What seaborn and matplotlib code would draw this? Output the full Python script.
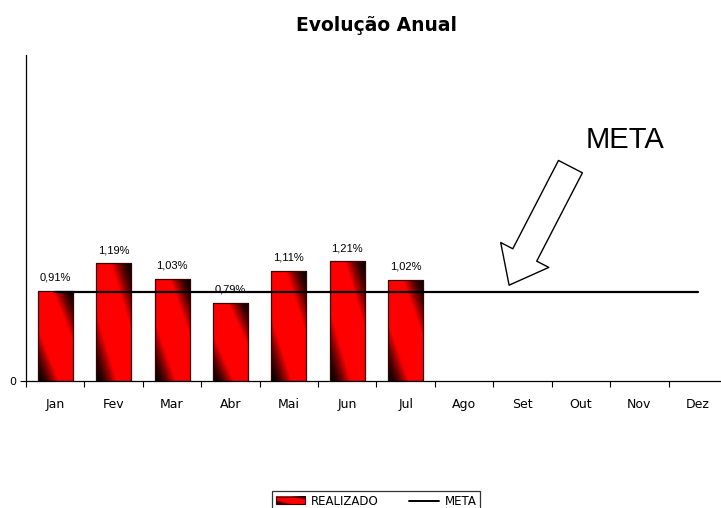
import numpy as np
import pandas as pd
import matplotlib
matplotlib.use("Agg")
import matplotlib.pyplot as plt
import seaborn as sns
from matplotlib.patches import Rectangle, Patch
from matplotlib.lines import Line2D
from matplotlib.legend_handler import HandlerBase
from matplotlib.image import BboxImage
from matplotlib.transforms import Bbox, TransformedBbox

# ---- data ----
months = ["Jan", "Fev", "Mar", "Abr", "Mai", "Jun", "Jul", "Ago", "Set", "Out", "Nov", "Dez"]
realizado = [0.91, 1.19, 1.03, 0.79, 1.11, 1.21, 1.02, np.nan, np.nan, np.nan, np.nan, np.nan]
meta = [0.90] * 12
title = "Evolução Anual"
meta_label = "META"
legend_labels = ["REALIZADO", "META"]

sns.set_theme(style="white")
plt.rcParams["font.family"] = ["DejaVu Sans"]
plt.rcParams.update({"text.color": "black", "axes.labelcolor": "black",
                     "xtick.color": "black", "ytick.color": "black"})

W, H = 721, 508
fig = plt.figure(figsize=(W / 100, H / 100), dpi=100)
ax = fig.add_axes([26 / W, 1 - 381 / H, 701 / W, 326 / H])

df = pd.DataFrame({"mes": months, "valor": realizado})
sns.barplot(data=df, x="mes", y="valor", order=months, color="red", saturation=1,
            width=0.6, errorbar=None, ax=ax)

# gradient fill
def grad_array(n=64, m=64):
    v = np.linspace(1, 0, n)[:, None]   # top row = 1
    u = np.linspace(0, 1, m)[None, :]
    d = np.abs(u + v - 1)
    f = np.clip((1 - d) / 0.58, 0, 1) ** 1.5
    img = np.zeros((n, m, 3))
    img[..., 0] = f
    return img

G = grad_array()
edge = "#3a0000"
for p in list(ax.patches):
    h = p.get_height()
    if not np.isfinite(h) or h == 0:
        p.set_visible(False)
        continue
    x0, w = p.get_x(), p.get_width()
    p.set_facecolor("none")
    p.set_edgecolor(edge)
    p.set_linewidth(0.9)
    p.set_zorder(3)
    im = ax.imshow(G, extent=(x0, x0 + w, 0, h), aspect="auto", zorder=2,
                   interpolation="bilinear")
    im.set_clip_path(p)

# meta line
sns.lineplot(x=np.arange(len(months)), y=meta, color="black", linewidth=1.6, ax=ax, zorder=5)

# data labels
for i, v in enumerate(realizado):
    if np.isfinite(v):
        ax.annotate(f"{v:.2f}".replace(".", ",") + "%", xy=(i, v), xytext=(0, 7.5),
                    textcoords="offset points", ha="center", va="baseline",
                    fontsize=8, family="Liberation Sans", color="black", zorder=6)

ax.set_xlim(-0.5, 11.5)
ax.set_ylim(0, 3.3)
ax.set_xlabel("")
ax.set_ylabel("")
ax.set_yticks([0])
ax.set_yticklabels(["0"], fontsize=8)
ax.set_xticks(range(len(months)))
ax.set_xticklabels(months, fontsize=9)
ax.set_xticks(np.arange(-0.5, 12, 1), minor=True)
ax.tick_params(axis="x", which="major", length=0, pad=12, colors="black")
ax.tick_params(axis="x", which="minor", length=4, width=0.8, direction="out", bottom=True, color="black")
ax.tick_params(axis="y", length=4, width=0.8, direction="out", left=True, pad=3, colors="black")
for s in ["top", "right"]:
    ax.spines[s].set_visible(False)
for s in ["left", "bottom"]:
    ax.spines[s].set_color("black")
    ax.spines[s].set_linewidth(0.9)
ax.grid(False)
ax.set_facecolor("white")

# META annotation with block arrow
ax.text(9.75, 2.44, meta_label, fontsize=21, family="Liberation Sans", ha="center", va="center",
        color="black")
ax.annotate("", xy=(7.77, 0.97), xytext=(8.82, 2.17),
            arrowprops=dict(arrowstyle="simple,head_length=2.45,head_width=3.9,tail_width=1.94",
                            mutation_scale=10, fc="white", ec="black", lw=1.0,
                            shrinkA=0, shrinkB=0), zorder=6)

# title
fig.text(376 / W, 1 - 31 / H, title, ha="center", va="baseline", fontsize=13.5,
         fontweight="bold", color="black")

# legend with gradient patch
class HandlerGrad(HandlerBase):
    def create_artists(self, legend, orig_handle, xdescent, ydescent, width, height, fontsize, trans):
        bb = Bbox.from_bounds(-xdescent, -ydescent, width, height)
        img = BboxImage(TransformedBbox(bb, trans), interpolation="bilinear")
        img.set_data(G)
        rect = Rectangle((-xdescent, -ydescent), width, height, fc="none", ec=edge, lw=0.8,
                         transform=trans)
        return [img, rect]

h1 = Patch(facecolor="red", edgecolor=edge)
h2 = Line2D([0], [0], color="black", lw=1.4)
leg = fig.legend([h1, h2], legend_labels, loc="upper left",
                 bbox_to_anchor=(272 / W, 1 - 491 / H), bbox_transform=fig.transFigure,
                 ncol=2, fontsize=8.5, frameon=True, fancybox=False, borderaxespad=0,
                 handlelength=2.5, handleheight=0.6, handletextpad=0.5, columnspacing=2.6,
                 borderpad=0.3, handler_map={Patch: HandlerGrad()})
leg.get_frame().set_edgecolor("black")
leg.get_frame().set_linewidth(0.9)
for t in leg.get_texts():
    t.set_color("black")

fig.savefig("out.png", dpi=100, facecolor="white")
